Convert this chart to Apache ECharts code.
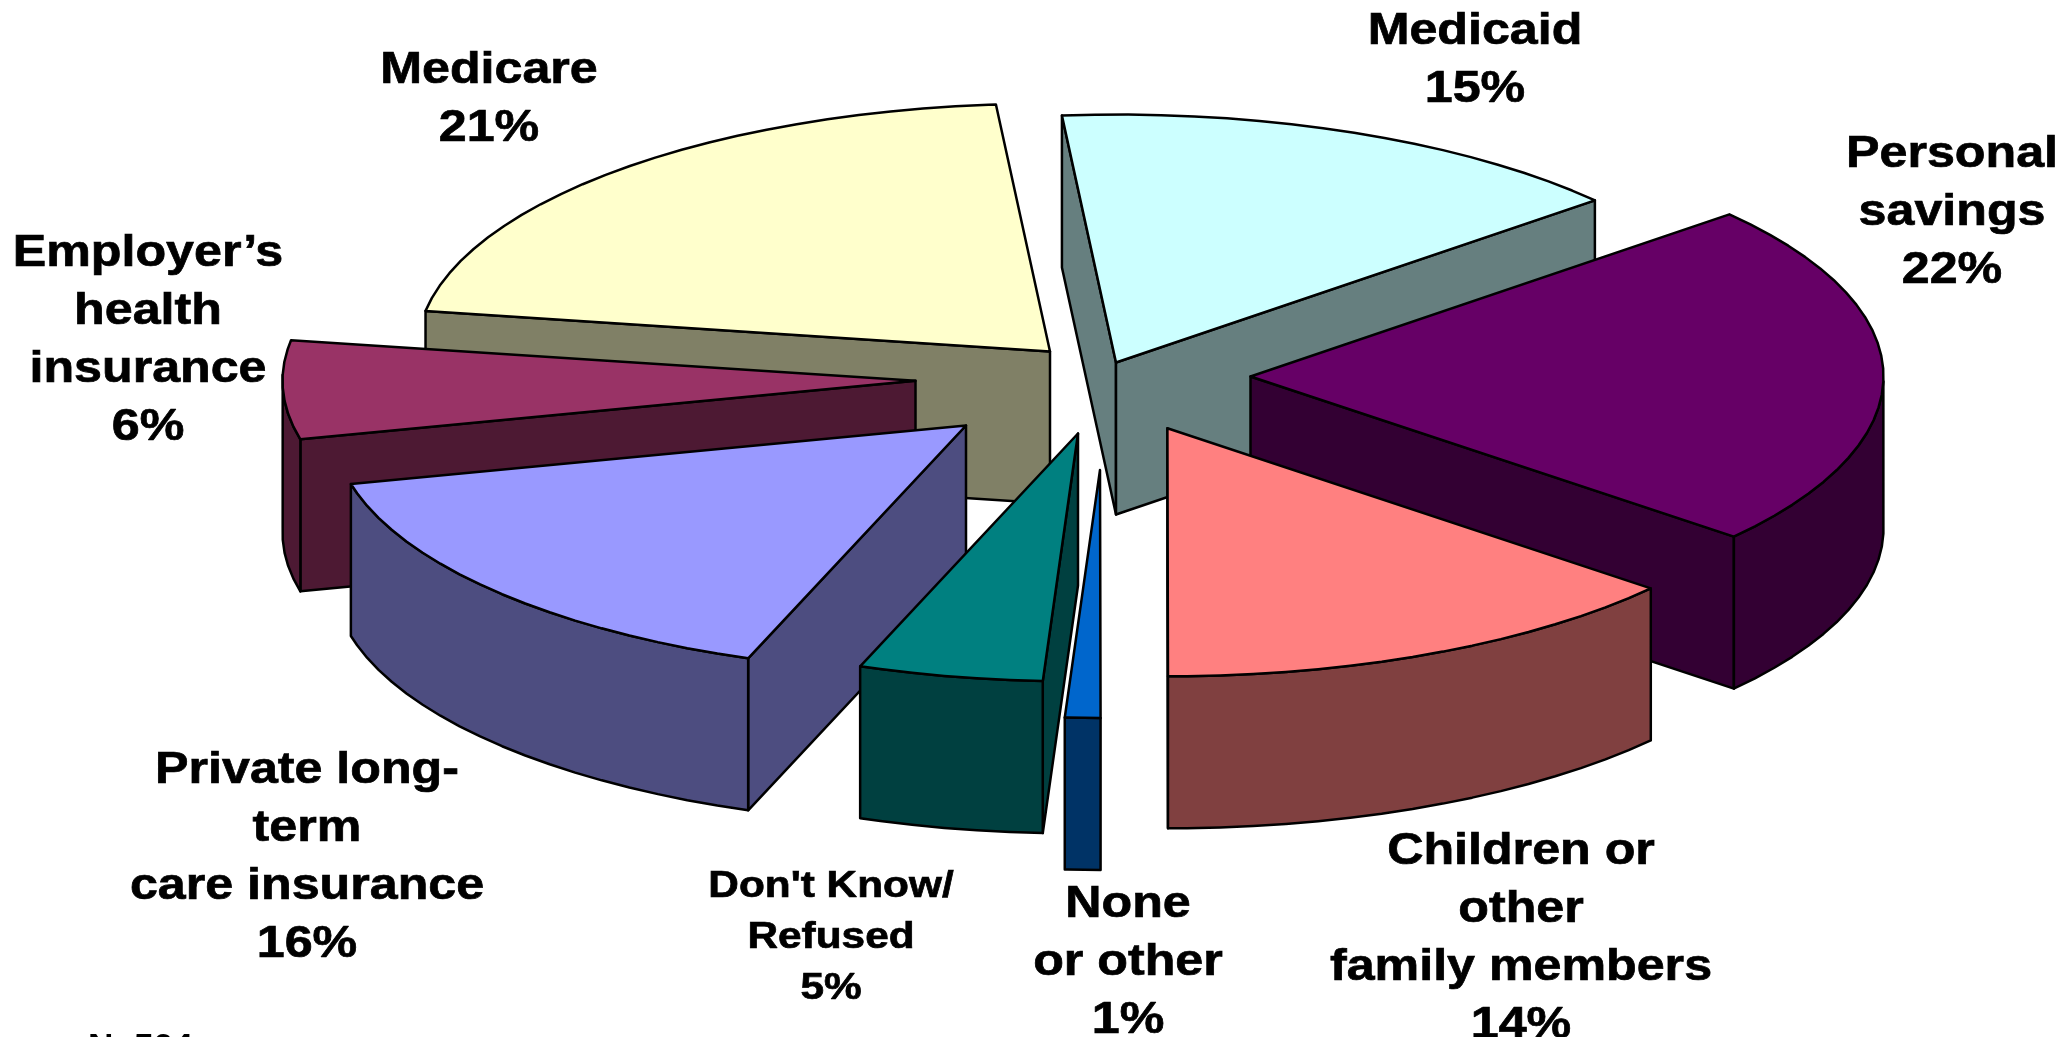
<!DOCTYPE html>
<html><head><meta charset="utf-8">
<style>html,body{margin:0;padding:0;background:#fff;overflow:hidden}#c{width:2068px;height:1037px}</style>
<script src="https://cdn.jsdelivr.net/npm/echarts@6/dist/echarts.min.js"></script>
</head><body><div id="c"></div>
<script>
// Clockwise from the top of the pie
const categories = ['Medicaid','Personal\nsavings','Children or\nother\nfamily members','None\nor other',"Don't Know/\nRefused",'Private long-\nterm\ncare insurance','Employer’s\nhealth\ninsurance','Medicare'];
const shares = [15.0,22.49,13.8,0.9,4.7,15.6,6.4,21.0];
const topColors = ['#CCFFFF','#660066','#FF8080','#0066CC','#008080','#9999FF','#993366','#FFFFCC'];
const wallColors = ['#667F7F','#330033','#804040','#003366','#004040','#4D4D80','#4D1933','#808066'];
const footnote = 'N=504';

// Layout of the drawing (not data)
const CX = 1083, CY = 379.5, RX = 633, RY = 248, DEPTH = 152, START = -4.9;
const explodeX = [33,167.5,84.4,17,-5,-117,-167.5,-33];
const explodeY = [-17,-3,48.8,90.4,54,46,1.3,-28];
const paintOrder = [7,0,6,5,1,2,4,3];
const labelX = [1475,1952,1521,1128,831,307,148,489];
const labelY = [3,126,823,876,861,742,225,42];
const labelSize = [45,45,45,45,37,45,45,45];
const labelLine = [58,58,58,58,51,58,58,58];
const labelStretch = [1.115,1.115,1.115,1.115,1.145,1.115,1.115,1.115];

const total = shares.reduce((a,b)=>a+b,0);
function poly(points, fill){
  return {type:'polygon',shape:{points},style:{fill,stroke:'#000',lineWidth:2.5,lineJoin:'round'}};
}
function renderItem(params, api){
  const i = api.value(1), share = api.value(0);
  let before = 0; for(let k=0;k<i;k++) before += shares[k];
  const a0 = START + before/total*360, a1 = a0 + share/total*360;
  const ax = CX+explodeX[i], ay = CY+explodeY[i];
  const pt = d => { const r=d*Math.PI/180; return [ax+RX*Math.sin(r), ay-RY*Math.cos(r)]; };
  const arc = [];
  for(let d=a0; d<a1; d+=3) arc.push(pt(d));
  arc.push(pt(a1));
  const apex = [ax,ay];
  const down = p => [p[0],p[1]+DEPTH];
  const children = [];
  const wall = (p,q) => children.push(poly([p,q,down(q),down(p)], wallColors[i]));
  // faces whose top edge runs leftwards (clockwise on screen) look at the viewer
  if(arc[0][0] < apex[0]-0.01) wall(apex,arc[0]);
  const last = arc[arc.length-1];
  if(last[0] > apex[0]+0.01) wall(last,apex);
  let run = [];
  const flush = () => { if(run.length>1){ children.push(poly(run.concat(run.slice().reverse().map(down)), wallColors[i])); } run=[]; };
  for(let k=0;k<arc.length-1;k++){
    if(arc[k+1][0] < arc[k][0]){ if(!run.length) run.push(arc[k]); run.push(arc[k+1]); } else flush();
  }
  flush();
  children.push(poly([apex].concat(arc), topColors[i]));
  return {type:'group',children};
}
const texts = categories.map((name,i)=>({
  type:'text', x:labelX[i], y:labelY[i], scaleX:labelStretch[i], silent:true,
  style:{text:name+'\n'+Math.round(shares[i])+'%', x:0, y:0, align:'center', verticalAlign:'top',
    font:'bold '+labelSize[i]+'px "Liberation Sans", Arial, sans-serif', lineHeight:labelLine[i], fill:'#000', stroke:'#000', lineWidth:0.7}
}));
texts.push({type:'text',x:88,y:1031,scaleX:1.1,silent:true,style:{text:footnote,font:'bold 32px "Liberation Sans", Arial, sans-serif',fill:'#000',verticalAlign:'top'}});
const chart = echarts.init(document.getElementById('c'),null,{renderer:'canvas'});
chart.setOption({
  animation:false, backgroundColor:'#fff',
  series:[{type:'custom',coordinateSystem:'none',silent:true,clip:false,renderItem,
    data:paintOrder.map(i=>({name:categories[i],value:[shares[i],i]}))}],
  graphic:{elements:texts}
});
</script></body></html>
